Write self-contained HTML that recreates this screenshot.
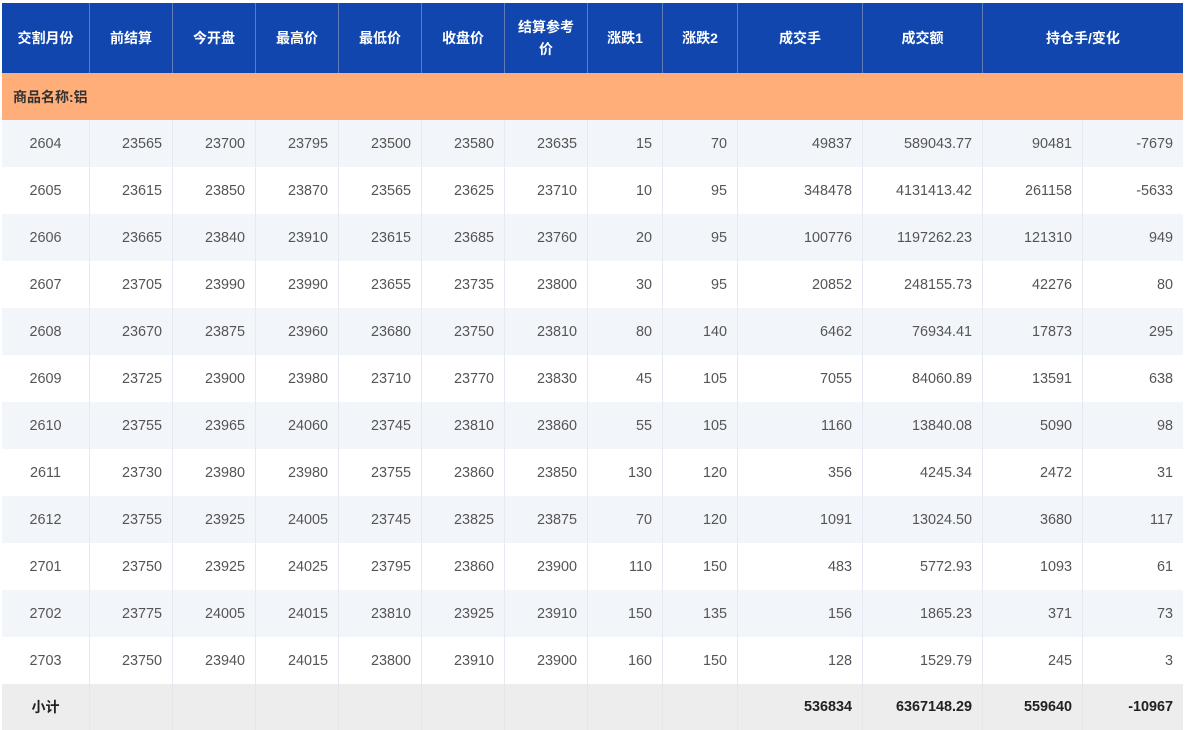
<!DOCTYPE html>
<html>
<head>
<meta charset="utf-8">
<style>
html,body{margin:0;padding:0;background:#fff;width:1186px;height:730px;overflow:hidden;}
body{font-family:"Liberation Sans","Noto Sans CJK SC",sans-serif;}
#t{position:absolute;left:2px;top:3px;width:1181px;}
.r{display:flex;height:47px;}
.r>div{box-sizing:border-box;border-right:1px solid #e6e9f1;height:100%;display:flex;align-items:center;justify-content:flex-end;padding-right:10px;font-size:14.4px;color:#555;white-space:nowrap;}
.r>div:last-child{border-right:none;}
.r>div:first-child{justify-content:center;padding-right:0;}
.hd{height:70px;background:#1046ae;}
.hd>div{justify-content:center !important;padding-right:0 !important;color:#fff !important;font-weight:bold;font-size:14px !important;border-right:1px solid #5f7bb8 !important;text-align:center;line-height:22px;}
.hd>div:last-child{border-right:none !important;}
.cat{height:47px;background:#ffae79;display:flex;align-items:center;padding-left:11px;font-size:14px;font-weight:bold;color:#333;}
.a{background:#f2f5fa;}
.b{background:#fff;}
.ft{background:#ededed;height:46px;}
.ft>div{font-weight:bold;color:#222;border-right:1px solid #e6e6e6;}
.c1{width:88px;}.c2{width:83px;}.c3{width:83px;}.c4{width:83px;}.c5{width:83px;}.c6{width:83px;}.c7{width:83px;}
.c8{width:75px;}.c9{width:75px;}.c10{width:125px;}.c11{width:120px;}.c12{width:100px;}.c13{width:100px;}
.c1213{width:200px;}
</style>
</head>
<body>
<div id="t">
<div class="r hd"><div class="c1">交割月份</div><div class="c2">前结算</div><div class="c3">今开盘</div><div class="c4">最高价</div><div class="c5">最低价</div><div class="c6">收盘价</div><div class="c7">结算参考<br>价</div><div class="c8">涨跌1</div><div class="c9">涨跌2</div><div class="c10">成交手</div><div class="c11">成交额</div><div class="c1213">持仓手/变化</div></div>
<div class="cat">商品名称:铝</div>
<div class="r a"><div class="c1">2604</div><div class="c2">23565</div><div class="c3">23700</div><div class="c4">23795</div><div class="c5">23500</div><div class="c6">23580</div><div class="c7">23635</div><div class="c8">15</div><div class="c9">70</div><div class="c10">49837</div><div class="c11">589043.77</div><div class="c12">90481</div><div class="c13">-7679</div></div>
<div class="r b"><div class="c1">2605</div><div class="c2">23615</div><div class="c3">23850</div><div class="c4">23870</div><div class="c5">23565</div><div class="c6">23625</div><div class="c7">23710</div><div class="c8">10</div><div class="c9">95</div><div class="c10">348478</div><div class="c11">4131413.42</div><div class="c12">261158</div><div class="c13">-5633</div></div>
<div class="r a"><div class="c1">2606</div><div class="c2">23665</div><div class="c3">23840</div><div class="c4">23910</div><div class="c5">23615</div><div class="c6">23685</div><div class="c7">23760</div><div class="c8">20</div><div class="c9">95</div><div class="c10">100776</div><div class="c11">1197262.23</div><div class="c12">121310</div><div class="c13">949</div></div>
<div class="r b"><div class="c1">2607</div><div class="c2">23705</div><div class="c3">23990</div><div class="c4">23990</div><div class="c5">23655</div><div class="c6">23735</div><div class="c7">23800</div><div class="c8">30</div><div class="c9">95</div><div class="c10">20852</div><div class="c11">248155.73</div><div class="c12">42276</div><div class="c13">80</div></div>
<div class="r a"><div class="c1">2608</div><div class="c2">23670</div><div class="c3">23875</div><div class="c4">23960</div><div class="c5">23680</div><div class="c6">23750</div><div class="c7">23810</div><div class="c8">80</div><div class="c9">140</div><div class="c10">6462</div><div class="c11">76934.41</div><div class="c12">17873</div><div class="c13">295</div></div>
<div class="r b"><div class="c1">2609</div><div class="c2">23725</div><div class="c3">23900</div><div class="c4">23980</div><div class="c5">23710</div><div class="c6">23770</div><div class="c7">23830</div><div class="c8">45</div><div class="c9">105</div><div class="c10">7055</div><div class="c11">84060.89</div><div class="c12">13591</div><div class="c13">638</div></div>
<div class="r a"><div class="c1">2610</div><div class="c2">23755</div><div class="c3">23965</div><div class="c4">24060</div><div class="c5">23745</div><div class="c6">23810</div><div class="c7">23860</div><div class="c8">55</div><div class="c9">105</div><div class="c10">1160</div><div class="c11">13840.08</div><div class="c12">5090</div><div class="c13">98</div></div>
<div class="r b"><div class="c1">2611</div><div class="c2">23730</div><div class="c3">23980</div><div class="c4">23980</div><div class="c5">23755</div><div class="c6">23860</div><div class="c7">23850</div><div class="c8">130</div><div class="c9">120</div><div class="c10">356</div><div class="c11">4245.34</div><div class="c12">2472</div><div class="c13">31</div></div>
<div class="r a"><div class="c1">2612</div><div class="c2">23755</div><div class="c3">23925</div><div class="c4">24005</div><div class="c5">23745</div><div class="c6">23825</div><div class="c7">23875</div><div class="c8">70</div><div class="c9">120</div><div class="c10">1091</div><div class="c11">13024.50</div><div class="c12">3680</div><div class="c13">117</div></div>
<div class="r b"><div class="c1">2701</div><div class="c2">23750</div><div class="c3">23925</div><div class="c4">24025</div><div class="c5">23795</div><div class="c6">23860</div><div class="c7">23900</div><div class="c8">110</div><div class="c9">150</div><div class="c10">483</div><div class="c11">5772.93</div><div class="c12">1093</div><div class="c13">61</div></div>
<div class="r a"><div class="c1">2702</div><div class="c2">23775</div><div class="c3">24005</div><div class="c4">24015</div><div class="c5">23810</div><div class="c6">23925</div><div class="c7">23910</div><div class="c8">150</div><div class="c9">135</div><div class="c10">156</div><div class="c11">1865.23</div><div class="c12">371</div><div class="c13">73</div></div>
<div class="r b"><div class="c1">2703</div><div class="c2">23750</div><div class="c3">23940</div><div class="c4">24015</div><div class="c5">23800</div><div class="c6">23910</div><div class="c7">23900</div><div class="c8">160</div><div class="c9">150</div><div class="c10">128</div><div class="c11">1529.79</div><div class="c12">245</div><div class="c13">3</div></div>
<div class="r ft"><div class="c1" style="font-size:14px">小计</div><div class="c2"></div><div class="c3"></div><div class="c4"></div><div class="c5"></div><div class="c6"></div><div class="c7"></div><div class="c8"></div><div class="c9"></div><div class="c10">536834</div><div class="c11">6367148.29</div><div class="c12">559640</div><div class="c13">-10967</div></div>
</div>
</body>
</html>
